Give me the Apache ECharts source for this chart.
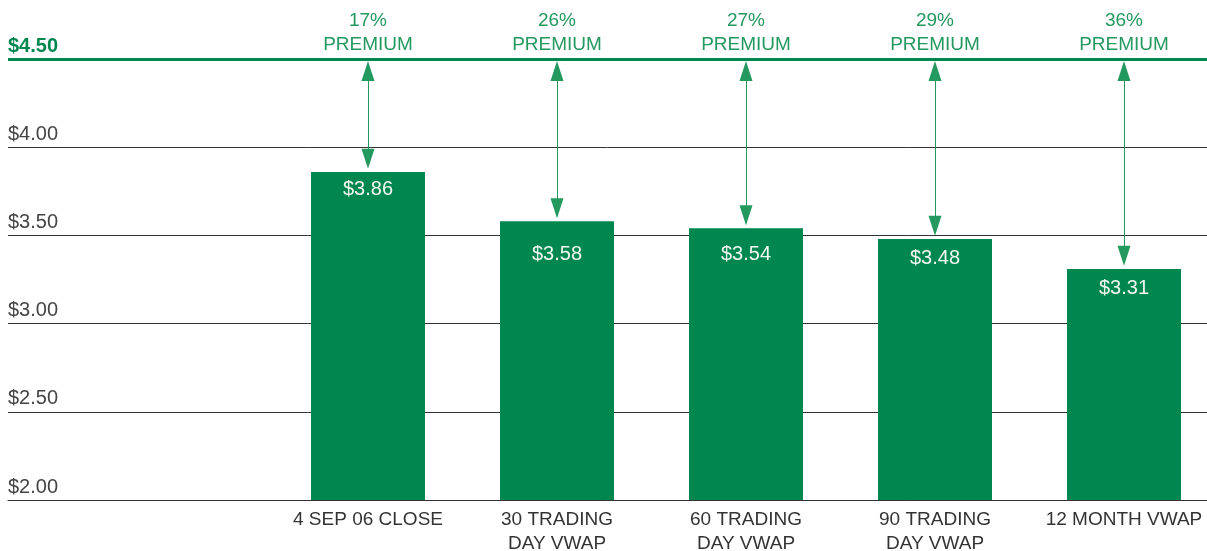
<!DOCTYPE html>
<html>
<head>
<meta charset="utf-8">
<script src="https://cdn.jsdelivr.net/npm/echarts@6/dist/echarts.min.js"></script>
<style>
  html, body { margin: 0; padding: 0; background: #fff; }
  #chart { width: 1207px; height: 551px; }
</style>
</head>
<body>
<div id="chart"></div>
<script>
  // data
  var categories = ['4 SEP 06 CLOSE', '30 TRADING\nDAY VWAP', '60 TRADING\nDAY VWAP', '90 TRADING\nDAY VWAP', '12 MONTH VWAP'];
  var prices = [3.86, 3.58, 3.54, 3.48, 3.31];
  var premiums = [17, 26, 27, 29, 36];
  var offerPrice = 4.5;
  var yTicks = [2.0, 2.5, 3.0, 3.5, 4.0, 4.5];

  // the value labels don't sit at the same depth in every bar of the original
  var labelGaps = [8, 23, 16, 10, 10];

  var green = '#00874f';
  var lightGreen = '#23995f';
  var font = 'Liberation Sans, Arial, sans-serif';

  var chart = echarts.init(document.getElementById('chart'));

  var barData = prices.map(function (v, i) {
    return { value: [i + 1, v], label: { distance: labelGaps[i] } };
  });

  // arrows from the offer line down to each bar (ends pulled in so the heads' tips touch)
  var arrows = prices.map(function (v, i) {
    return [
      {
        coord: [i + 1, offerPrice - 0.068],
        label: {
          show: true,
          position: 'start',
          distance: 14,
          formatter: premiums[i] + '%\nPREMIUM',
          color: lightGreen,
          fontSize: 19,
          lineHeight: 24,
          fontFamily: font
        }
      },
      { coord: [i + 1, v + 0.074] }
    ];
  });

  chart.setOption({
    animation: false,
    grid: { left: 8, right: 0, top: 59, bottom: 51, outerBoundsMode: 'none' },
    xAxis: {
      type: 'value',
      min: 1 - 360 / 189,
      max: 1 - 360 / 189 + 1199 / 189,
      splitLine: { show: false },
      axisTick: { show: false },
      axisLine: { show: true, lineStyle: { color: '#333', width: 1 } },
      axisLabel: {
        customValues: [1, 2, 3, 4, 5],
        formatter: function (v) { return categories[Math.round(v) - 1] || ''; },
        color: '#333',
        fontSize: 19,
        lineHeight: 24,
        margin: 8,
        fontFamily: font
      }
    },
    yAxis: {
      type: 'value',
      min: yTicks[0],
      max: yTicks[yTicks.length - 1],
      interval: 0.5,
      axisLine: { show: false },
      axisTick: { show: false },
      splitLine: { lineStyle: { color: '#333', width: 1 } },
      axisLabel: {
        inside: true,
        margin: 0,
        align: 'left',
        verticalAlign: 'bottom',
        padding: [0, 0, 3, 0],
        showMaxLabel: false,
        formatter: function (v) { return '$' + v.toFixed(2); },
        color: '#444',
        fontSize: 20,
        fontFamily: font
      }
    },
    series: [{
      type: 'bar',
      data: barData,
      barWidth: 114,
      itemStyle: { color: green },
      label: {
        show: true,
        position: 'insideTop',
        distance: 7,
        formatter: function (p) { return '$' + p.value[1].toFixed(2); },
        color: '#f2f7f2',
        fontSize: 20,
        fontFamily: font
      },
      markLine: {
        silent: true,
        symbol: ['triangle', 'triangle'],
        symbolSize: [13, 20],
        lineStyle: { color: lightGreen, width: 1, type: 'solid' },
        itemStyle: { color: green },
        data: arrows
      }
    }, {
      // the offer price line
      type: 'line',
      data: [],
      markLine: {
        silent: true,
        symbol: ['none', 'none'],
        lineStyle: { color: green, width: 3, type: 'solid' },
        label: {
          show: true,
          position: 'insideStartTop',
          distance: [0, 3],
          formatter: '$4.50',
          color: green,
          fontSize: 20,
          fontWeight: 'bold',
          fontFamily: font
        },
        data: [{ yAxis: offerPrice }]
      }
    }]
  });
</script>
</body>
</html>
